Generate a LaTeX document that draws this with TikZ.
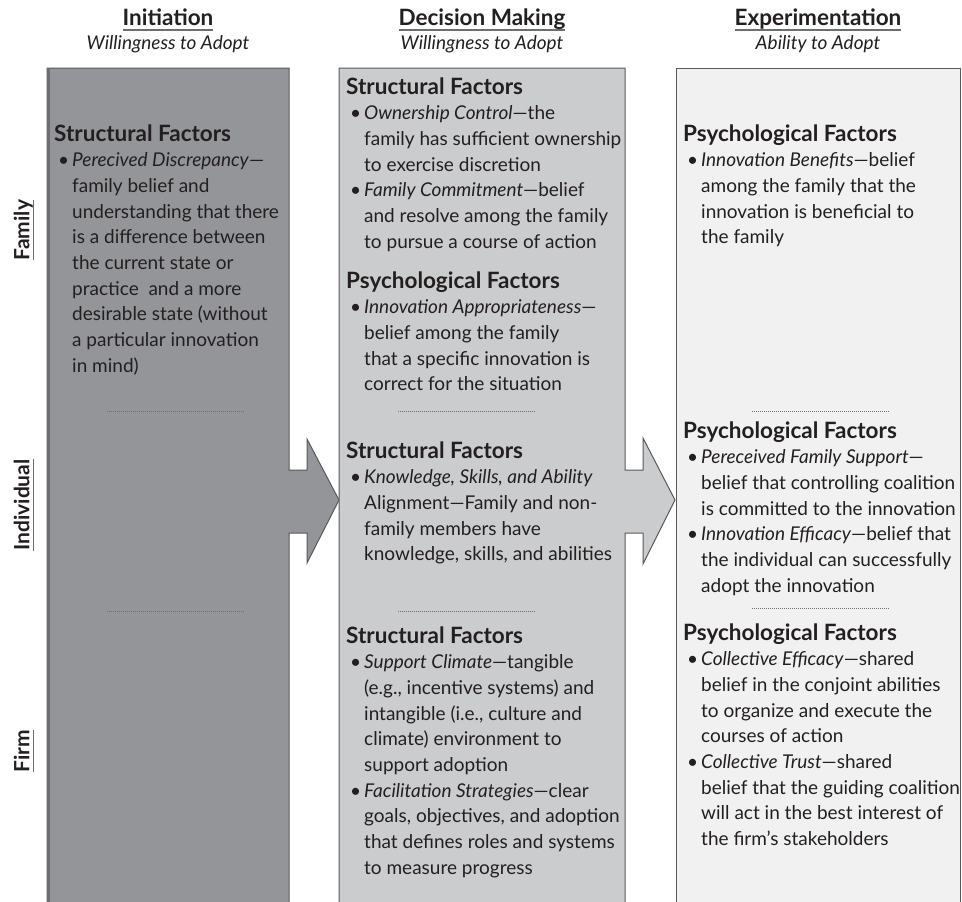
\documentclass[tikz,border=0pt]{standalone}
\usepackage{fontspec}
\setmainfont{Lato}
\definecolor{ink}{HTML}{231F20}
\definecolor{fillA}{HTML}{939598}
\definecolor{fillB}{HTML}{CBCCCD}
\definecolor{fillC}{HTML}{F1F1F2}
\definecolor{edge}{HTML}{58595B}
\definecolor{edgeA}{HTML}{6D6E71}
\definecolor{dots}{HTML}{6D6E71}
\newcommand\hdg[1]{\hbox{\fontsize{22.5pt}{25.7pt}\selectfont\bfseries #1}}
\newcommand\bpt[1]{\hbox{\hspace*{4pt}\makebox[14pt][l]{•}#1}}
\newcommand\cnt[1]{\hbox{\hspace*{18pt}#1}}
\newcommand\lns[1]{\vtop{#1}}
\newcommand\ulbox[3]{\setbox0\hbox{#1}\rlap{\textcolor{edgeA}{\rule[#2]{\wd0}{#3}}}\box0}
\begin{document}
\begin{tikzpicture}[x=1pt,y=-1pt,
  body/.style={anchor=base west, inner sep=0pt, text=ink, font=\fontsize{19pt}{25.7pt}\selectfont},
  ttl/.style={anchor=base, inner sep=0pt, text=ink, font=\fontsize{22.5pt}{26pt}\selectfont\bfseries},
  sub/.style={anchor=base, inner sep=0pt, text=ink, font=\fontsize{19pt}{22pt}\selectfont\itshape},
  side/.style={rotate=90, inner sep=0pt, text=ink, font=\fontsize{21pt}{24pt}\selectfont\bfseries},
  boxline/.style={draw=edge, line width=1pt},
  sep/.style={draw=dots, line width=1pt, dash pattern=on 1pt off 1pt}
]
\useasboundingbox (0,0) rectangle (962,902);

% column A with arrow
\fill[fillA] (47,68) -- (289,68) -- (289,470) -- (307,470) -- (307,439) -- (339,500) -- (307,563) -- (307,533) -- (289,533) -- (289,902) -- (47,902) -- cycle;
\draw[boxline] (47,902) -- (47,68) -- (289,68) -- (289,470) -- (307,470) -- (307,439) -- (339,500) -- (307,563) -- (307,533) -- (289,533) -- (289,902);
\draw[edgeA, line width=3pt] (48.5,68) -- (48.5,902);
% column B with arrow
\fill[fillB] (339,68) -- (625,68) -- (625,470) -- (643,470) -- (643,438) -- (675,500) -- (643,564) -- (643,533) -- (625,533) -- (625,902) -- (339,902) -- cycle;
\draw[boxline] (339,902) -- (339,68) -- (625,68) -- (625,470) -- (643,470) -- (643,438) -- (675,500) -- (643,564) -- (643,533) -- (625,533) -- (625,902);
% column C
\fill[fillC] (676,68) rectangle (960,902);
\draw[boxline] (676,902) -- (676,68) -- (960,68) -- (960,902);

% separators
\draw[sep] (107,411) -- (245,411);
\draw[sep] (107,611) -- (245,611);
\draw[sep] (398,411) -- (536,411);
\draw[sep] (398,611) -- (536,611);
\draw[sep] (752,411) -- (890,411);
\draw[sep] (752,608) -- (890,608);

% headers
\node[ttl] (t1) at (168,25) {\ulbox{Initiation}{-6pt}{1.6pt}};
\node[sub] (s1) at (168,49) {Willingness to Adopt};
\node[ttl] (t2) at (482,25) {\ulbox{Decision Making}{-6pt}{1.6pt}};
\node[sub] (s2) at (482,49) {Willingness to Adopt};
\node[ttl] (t3) at (818,25) {\ulbox{Experimentation}{-6pt}{1.6pt}};
\node[sub] (s3) at (818,49) {Ability to Adopt};

% side labels
\node[side] (l1) at (24,230) {\ulbox{Family}{-5pt}{1.3pt}};
\node[side] (l2) at (24,505) {\ulbox{Individual}{-5pt}{1.3pt}};
\node[side] (l3) at (24,751) {\ulbox{Firm}{-5pt}{1.3pt}};

% column A text
\node[body] (a1) at (54,141) {\lns{\hdg{Structural Factors}
\bpt{\textit{Perecived Discrepancy}—}
\cnt{family belief and}
\cnt{understanding that there}
\cnt{is a difference between}
\cnt{the current state or}
\cnt{practice\ \ and a more}
\cnt{desirable state (without}
\cnt{a particular innovation}
\cnt{in mind)}}};

% column B text
\node[body] (b1) at (346,94) {\lns{\hdg{Structural Factors}
\bpt{\textit{Ownership Control}—the}
\cnt{family has sufficient ownership}
\cnt{to exercise discretion}
\bpt{\textit{Family Commitment}—belief}
\cnt{and resolve among the family}
\cnt{to pursue a course of action}}};
\node[body] (b2) at (346,288) {\lns{\hdg{Psychological Factors}
\bpt{\textit{Innovation Appropriateness}—}
\cnt{belief among the family}
\cnt{that a specific innovation is}
\cnt{correct for the situation}}};
\node[body] (b3) at (346,458) {\lns{\hdg{Structural Factors}
\bpt{\textit{Knowledge, Skills, and Ability}}
\cnt{Alignment—Family and non-}
\cnt{family members have}
\cnt{knowledge, skills, and abilities}}};
\node[body] (b4) at (346,643) {\lns{\hdg{Structural Factors}
\bpt{\textit{Support Climate}—tangible}
\cnt{(e.g., incentive systems) and}
\cnt{intangible (i.e., culture and}
\cnt{climate) environment to}
\cnt{support adoption}
\bpt{\textit{Facilitation Strategies}—clear}
\cnt{goals, objectives, and adoption}
\cnt{that defines roles and systems}
\cnt{to measure progress}}};

% column C text
\node[body] (c1) at (683,141) {\lns{\hdg{Psychological Factors}
\bpt{\textit{Innovation Benefits}—belief}
\cnt{among the family that the}
\cnt{innovation is beneficial to}
\cnt{the family}}};
\node[body] (c2) at (683,438) {\lns{\hdg{Psychological Factors}
\bpt{\textit{Pereceived Family Support}—}
\cnt{belief that controlling coalition}
\cnt{is committed to the innovation}
\bpt{\textit{Innovation Efficacy}—belief that}
\cnt{the individual can successfully}
\cnt{adopt the innovation}}};
\node[body] (c3) at (683,640) {\lns{\hdg{Psychological Factors}
\bpt{\textit{Collective Efficacy}—shared}
\cnt{belief in the conjoint abilities}
\cnt{to organize and execute the}
\cnt{courses of action}
\bpt{\textit{Collective Trust}—shared}
\cnt{belief that the guiding coalition}
\cnt{will act in the best interest of}
\cnt{the firm's stakeholders}}};
\end{tikzpicture}
\end{document}
